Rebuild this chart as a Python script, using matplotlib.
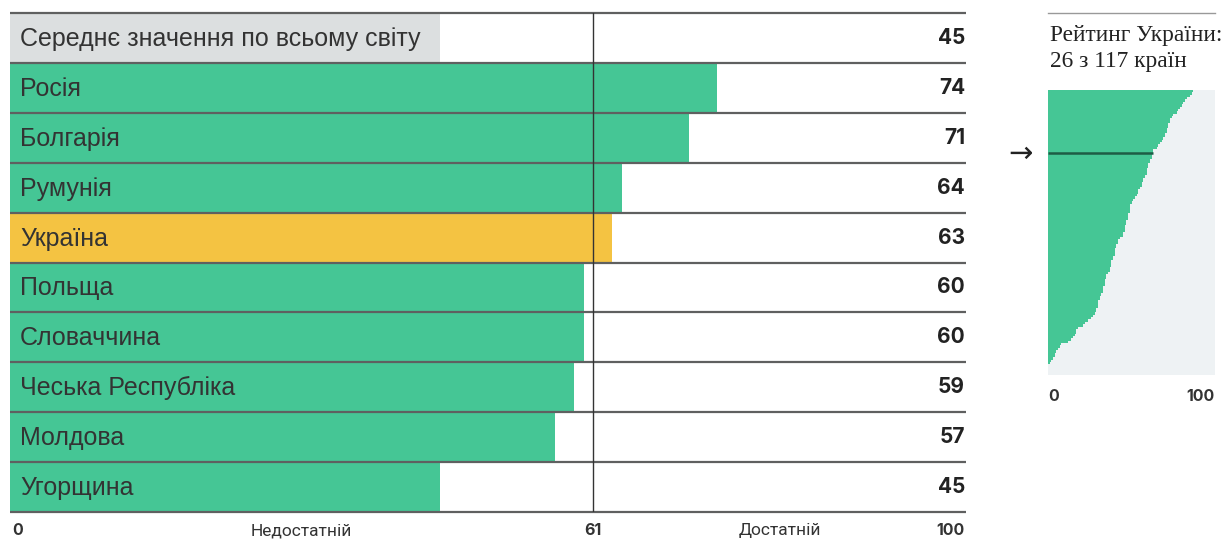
import numpy as np
import matplotlib.pyplot as plt

# main chart data
countries = ['Середнє значення по всьому світу', 'Росія', 'Болгарія', 'Румунія', 'Україна',
             'Польща', 'Словаччина', 'Чеська Республіка', 'Молдова', 'Угорщина']
scores = [45, 74, 71, 64, 63, 60, 60, 59, 57, 45]
threshold = 61

# all 117 countries, sorted
world_scores = [87, 86, 85, 83, 82, 81, 80, 79, 78, 77,
                75, 74, 73, 73, 72, 72, 71, 71, 70, 70,
                69, 68, 67, 66, 65, 63, 63, 62, 62, 61,
                61, 60, 60, 59, 59, 59, 58, 57, 57, 56,
                56, 55, 54, 54, 53, 52, 51, 50, 49, 49,
                49, 49, 48, 48, 48, 47, 47, 46, 46, 46,
                45, 45, 43, 42, 42, 41, 41, 40, 40, 40,
                39, 39, 38, 38, 38, 37, 37, 36, 35, 35,
                34, 34, 34, 33, 33, 33, 32, 31, 31, 30,
                30, 30, 29, 29, 28, 27, 26, 24, 22, 21,
                18, 17, 17, 16, 15, 14, 12, 8, 7, 6,
                5, 4, 4, 3, 2, 1, 0]
ukraine_rank = 26

GREEN = '#45c695'
YELLOW = '#f4c342'
GREY = '#dcdfe0'

W, H = 1227, 540
fig = plt.figure(figsize=(W / 100, H / 100), dpi=100)

# ---- main chart
ax = fig.add_axes([10 / W, 1 - 512 / H, 956 / W, 499 / H])
ax.set_xlim(0, 100)
ax.set_ylim(len(countries), 0)
ax.axis('off')

colors = [GREY] + [YELLOW if c == 'Україна' else GREEN for c in countries[1:]]
y = np.arange(len(countries)) + 0.5
ax.barh(y, scores, height=1.0, color=colors, edgecolor='none')

for i in range(len(countries) + 1):
    ax.plot([0, 100], [i, i], color='#5f6060', lw=1.6, solid_capstyle='butt', clip_on=False)
ax.plot([threshold, threshold], [0, len(countries)], color='#333333', lw=1.0, zorder=5)

for yi, name, val in zip(y, countries, scores):
    ax.text(1.05, yi + 0.02, name, va='center', ha='left', fontsize=18,
            family='Liberation Sans', color='#333333')
    ax.text(99.9, yi, str(val), va='center', ha='right', fontsize=15,
            family='Inter', fontweight='bold', color='#222222')

yb = len(countries) + 0.38
ax.text(0.2, yb, '0', ha='left', va='center', fontsize=11.5, family='Inter',
        fontweight='bold', color='#333333', clip_on=False)
ax.text(threshold, yb, str(threshold), ha='center', va='center', fontsize=11.5,
        family='Inter', fontweight='bold', color='#333333', clip_on=False)
ax.text(99.9, yb, '100', ha='right', va='center', fontsize=11.5, family='Inter',
        fontweight='bold', color='#333333', clip_on=False)
ax.text(30.5, yb, 'Недостатній', ha='center', va='center', fontsize=12.5,
        family='Roboto', color='#333333', clip_on=False)
ax.text(80.5, yb, 'Достатній', ha='center', va='center', fontsize=12.5,
        family='Roboto', color='#333333', clip_on=False)

# ---- small ranking panel
ax2 = fig.add_axes([1048 / W, 1 - 375 / H, 167 / W, 285 / H])
ax2.set_xlim(0, 100)
ax2.set_ylim(len(world_scores) + 3.5, 0)
ax2.set_facecolor('#eef2f4')
for s in ax2.spines.values():
    s.set_visible(False)
ax2.set_xticks([])
ax2.set_yticks([])
ranks = np.arange(len(world_scores)) + 0.5
ax2.barh(ranks, world_scores, height=1.0, color=GREEN, edgecolor='none')
ax2.plot([0, world_scores[ukraine_rank - 1]], [ukraine_rank + 0.5] * 2,
         color='#1e5c45', lw=1.8, solid_capstyle='butt')

ax2.text(0, -0.075, '0', transform=ax2.transAxes, ha='left', va='center',
         fontsize=11.5, family='Inter', fontweight='bold', color='#333333')
ax2.text(1, -0.075, '100', transform=ax2.transAxes, ha='right', va='center',
         fontsize=11.5, family='Inter', fontweight='bold', color='#333333')

fig.text(1020 / W, 1 - 154 / H, '→', ha='center', va='center', fontsize=21,
         family='DejaVu Sans', color='#222222')
fig.add_artist(plt.Line2D([1048 / W, 1215 / W], [1 - 13 / H] * 2,
                          color='#999999', lw=1.0))
fig.text(1050 / W, 1 - 35 / H, 'Рейтинг України:', ha='left', va='center',
         fontsize=16.8, family='Liberation Serif', color='#222222')
fig.text(1050 / W, 1 - 61 / H, '26 з 117 країн', ha='left', va='center',
         fontsize=16.8, family='Liberation Serif', color='#222222')

fig.savefig('out.png', dpi=100)
